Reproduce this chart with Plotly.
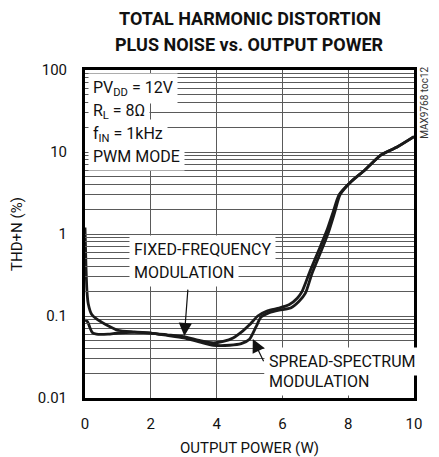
import plotly.graph_objects as go

# Output power (W) and THD+N (%)
ff_power = [0.0, 0.03, 0.06, 0.1, 0.2, 0.35, 0.6, 1.0, 1.5, 2.0, 2.5, 3.0, 3.5, 3.9, 4.2, 4.5,
            4.8, 5.0, 5.25, 5.55, 5.9, 6.2, 6.45, 6.6, 6.85, 7.15, 7.35, 7.55, 7.72, 8.1, 8.5,
            9.0, 9.5, 10.0]
ff_thdn = [1.2, 0.4, 0.2, 0.14, 0.105, 0.092, 0.08, 0.067, 0.064, 0.062, 0.059, 0.056, 0.05,
           0.047, 0.049, 0.054, 0.066, 0.078, 0.1, 0.116, 0.125, 0.137, 0.165, 0.2, 0.36,
           0.7, 1.1, 1.9, 3.0, 4.4, 6.0, 9.2, 11.6, 15.4]

ss_power = [0.0, 0.08, 0.15, 0.22, 0.35, 0.7, 1.0, 1.5, 2.0, 2.5, 3.0, 3.5, 3.9, 4.4, 4.75,
            5.0, 5.2, 5.35, 5.6, 5.9, 6.25, 6.5, 6.7, 6.9, 7.2, 7.4, 7.6, 7.75, 8.1, 8.5,
            9.0, 9.5, 10.0]
ss_thdn = [0.09, 0.085, 0.072, 0.063, 0.06, 0.06, 0.062, 0.063, 0.062, 0.058, 0.054, 0.048,
           0.044, 0.044, 0.046, 0.052, 0.074, 0.097, 0.11, 0.118, 0.125, 0.15, 0.19, 0.33,
           0.65, 1.05, 1.9, 3.0, 4.4, 6.0, 9.2, 11.6, 15.4]

x_ticks = [0, 2, 4, 6, 8, 10]
y_ticks = [0.01, 0.1, 1, 10, 100]
y_tick_text = ["0.01", "0.1", "1", "10", "100"]

FONT = "Roboto, Liberation Sans, sans-serif"
GRID = "#5a5a5a"

fig = go.Figure()
fig.add_trace(go.Scatter(x=ff_power, y=ff_thdn, mode="lines", name="Fixed-frequency",
                         line=dict(color="#1a1a1a", width=2.8, shape="spline", smoothing=0.6)))
fig.add_trace(go.Scatter(x=ss_power, y=ss_thdn, mode="lines", name="Spread-spectrum",
                         line=dict(color="#1a1a1a", width=2.8, shape="spline", smoothing=0.6)))

fig.update_layout(
    width=431, height=449,
    margin=dict(l=77, r=25, t=62, b=59, autoexpand=False),
    paper_bgcolor="white", plot_bgcolor="white",
    showlegend=False,
    font=dict(family=FONT, size=15, color="#111111"),
)

fig.update_xaxes(
    range=[0, 10], tickvals=x_ticks, showline=True, linewidth=3, linecolor="black",
    mirror="allticks", ticks="inside", ticklen=4, tickcolor=GRID,
    showgrid=True, gridcolor=GRID, gridwidth=1, zeroline=False, automargin=False,
    ticklabelstandoff=10, tickfont=dict(size=15),
    title=dict(text="OUTPUT POWER (W)", standoff=12, font=dict(size=15)),
)
fig.update_yaxes(
    type="log", range=[-2, 2], tickvals=y_ticks, ticktext=y_tick_text,
    showline=True, linewidth=3, linecolor="black",
    mirror="allticks", ticks="inside", ticklen=4, tickcolor=GRID,
    showgrid=True, gridcolor=GRID, gridwidth=1, zeroline=False, automargin=False,
    minor=dict(dtick="D1", showgrid=True, gridcolor=GRID, gridwidth=1,
               ticks="inside", ticklen=4, tickcolor=GRID),
    ticklabelstandoff=12, tickfont=dict(size=15),
    title=dict(text="THD+N (%)", standoff=16, font=dict(size=15)),
)

# Title (two lines)
fig.add_annotation(x=0.5, y=1.158, xref="paper", yref="paper", showarrow=False,
                   text="<b>TOTAL HARMONIC DISTORTION</b>", xanchor="center", yanchor="middle",
                   font=dict(family=FONT, size=18, color="#111111"))
fig.add_annotation(x=0.5, y=1.077, xref="paper", yref="paper", showarrow=False,
                   text="<b>PLUS NOISE vs. OUTPUT POWER</b>", xanchor="center", yanchor="middle",
                   font=dict(family=FONT, size=18, color="#111111"))

def label(text, x, ylog, xanchor="left", size=16):
    fig.add_annotation(x=x, y=ylog, xref="x", yref="y", text=text, showarrow=False,
                       xanchor=xanchor, yanchor="middle", bgcolor="white", borderpad=4,
                       font=dict(family=FONT, size=size, color="#111111"))

# Conditions
label("PV<sub>DD</sub> = 12V", 0.1, 1.78)
label("R<sub>L</sub> = 8Ω", 0.1, 1.49)
label("f<sub>IN</sub> = 1kHz", 0.1, 1.21)
label("PWM MODE", 0.1, 0.95)

# Curve labels
label("FIXED-FREQUENCY", 1.33, -0.19)
label("MODULATION", 1.33, -0.475)
label("SPREAD-SPECTRUM", 5.45, -1.56)
label("MODULATION", 5.45, -1.80)

# Arrows
fig.add_annotation(x=3.02, y=-1.245, ax=3.13, ay=-0.66, xref="x", yref="y",
                   axref="x", ayref="y", showarrow=True, text="",
                   arrowhead=2, arrowsize=2.2, arrowwidth=1.2, arrowcolor="#111111")
fig.add_annotation(x=5.1, y=-1.28, ax=5.45, ay=-1.57, xref="x", yref="y",
                   axref="x", ayref="y", showarrow=True, text="",
                   arrowhead=2, arrowsize=2.2, arrowwidth=1.2, arrowcolor="#111111")

# Figure id
fig.add_annotation(x=1.0, y=1.6, xref="paper", yref="y", xshift=11, text="MAX9768 toc12",
                   showarrow=False, textangle=-90, xanchor="center", yanchor="middle",
                   font=dict(family=FONT, size=10, color="#333333"))

fig.write_html("out.html")
